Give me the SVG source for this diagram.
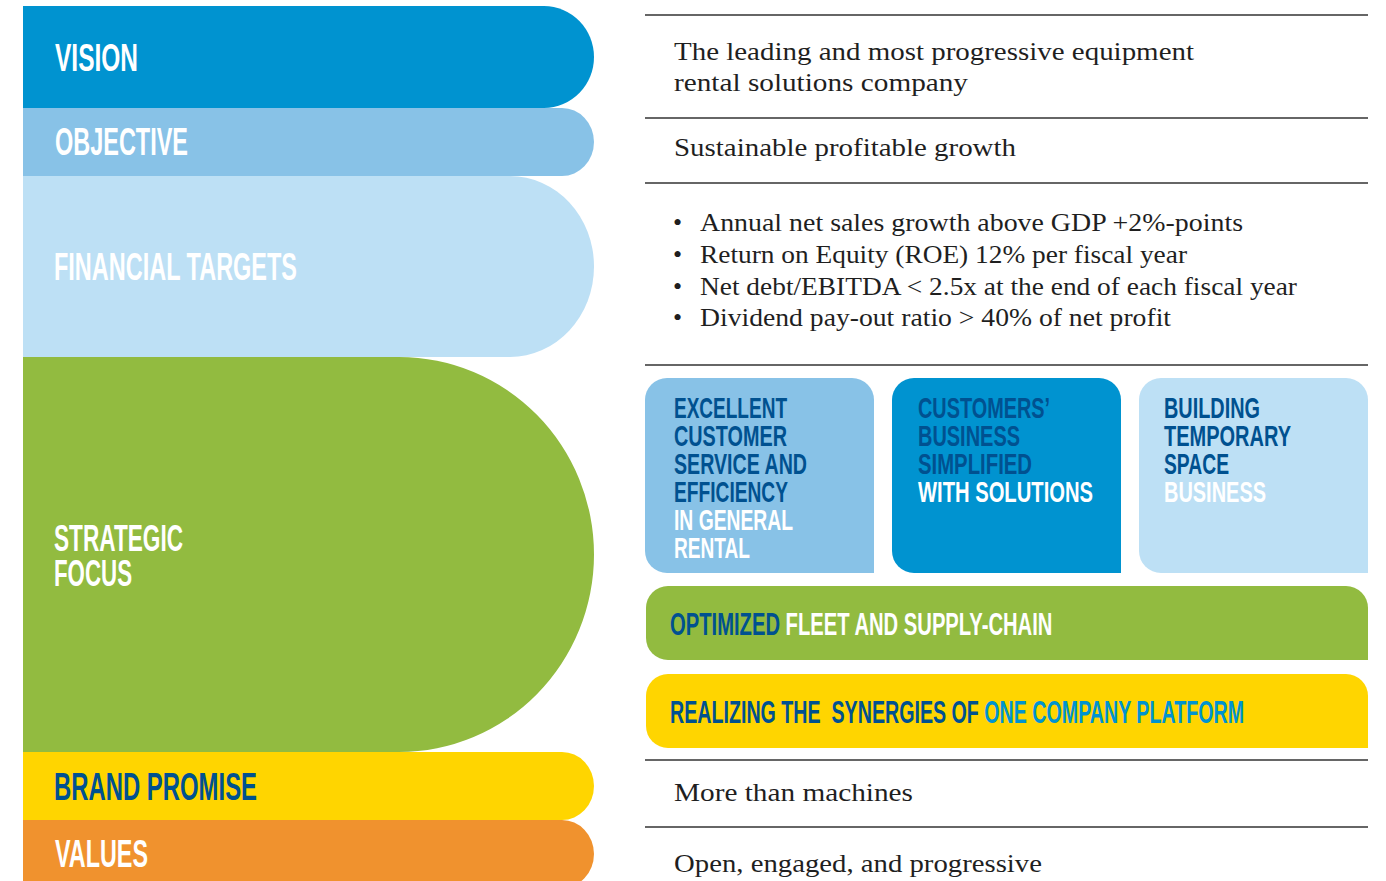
<svg xmlns="http://www.w3.org/2000/svg" width="1386" height="881" viewBox="0 0 1386 881">
<style>
.lbl{font-family:"Liberation Sans",Arial,sans-serif;font-weight:bold;}
.big{font-size:39px;}
.box{font-size:30px;}
.bar{font-size:31px;white-space:pre;}
.ser{font-family:"Liberation Serif","Times New Roman",serif;font-size:26px;fill:#1f1f1f;}
.w{fill:#ffffff;}
.d{fill:#005190;}
.b{fill:#0093D0;}
.sep{stroke:#333333;stroke-width:1.4;}
</style>
<rect x="0" y="0" width="1386" height="881" fill="#ffffff"/>

<g id="vision">
<path d="M23,6 H544 A50,51 0 0 1 594,57 A50,51 0 0 1 544,108 H23 Z" fill="#0093D0"/>
<text class="lbl big w" x="55" y="71" textLength="83" lengthAdjust="spacingAndGlyphs">VISION</text>
</g>
<g id="objective">
<path d="M23,108 H562 A32,34 0 0 1 594,142 A32,34 0 0 1 562,176 H23 Z" fill="#88C2E7"/>
<text class="lbl big w" x="55" y="155" textLength="133" lengthAdjust="spacingAndGlyphs">OBJECTIVE</text>
</g>
<g id="financial-targets">
<path d="M23,176 H510 A84,90.5 0 0 1 594,266.5 A84,90.5 0 0 1 510,357 H23 Z" fill="#BDE0F5"/>
<text class="lbl big w" x="54" y="280" font-size="38" textLength="243" lengthAdjust="spacingAndGlyphs">FINANCIAL TARGETS</text>
</g>
<g id="strategic-focus">
<path d="M23,357 H399 A195,197.5 0 0 1 594,554.5 A195,197.5 0 0 1 399,752 H23 Z" fill="#92BB40"/>
<text class="lbl w" font-size="37"><tspan x="54" y="551" textLength="129" lengthAdjust="spacingAndGlyphs">STRATEGIC</tspan><tspan x="54" y="586" textLength="78" lengthAdjust="spacingAndGlyphs">FOCUS</tspan></text>
</g>
<g id="brand-promise">
<path d="M23,752 H562 A32,34 0 0 1 594,786 A32,34 0 0 1 562,820 H23 Z" fill="#FFD500"/>
<text class="lbl big d" x="54" y="800" textLength="203" lengthAdjust="spacingAndGlyphs">BRAND PROMISE</text>
</g>
<g id="values">
<path d="M23,820 H562 A32,34 0 0 1 594,854 A32,34 0 0 1 562,888 H23 Z" fill="#F0922E"/>
<text class="lbl big w" x="55" y="867" textLength="93" lengthAdjust="spacingAndGlyphs">VALUES</text>
</g>

<g id="separators">
<line class="sep" x1="645" y1="15" x2="1368" y2="15"/>
<line class="sep" x1="645" y1="118" x2="1368" y2="118"/>
<line class="sep" x1="645" y1="183" x2="1368" y2="183"/>
<line class="sep" x1="645" y1="365" x2="1368" y2="365"/>
<line class="sep" x1="645" y1="760" x2="1368" y2="760"/>
<line class="sep" x1="645" y1="827" x2="1368" y2="827"/>
</g>

<g id="vision-text">
<text class="ser"><tspan x="674" y="60" textLength="520" lengthAdjust="spacingAndGlyphs">The leading and most progressive equipment</tspan><tspan x="674" y="91" textLength="294" lengthAdjust="spacingAndGlyphs">rental solutions company</tspan></text>
</g>
<g id="objective-text">
<text class="ser" x="674" y="156" textLength="342" lengthAdjust="spacingAndGlyphs">Sustainable profitable growth</text>
</g>
<g id="financial-text">
<text class="ser"><tspan x="673" y="231">•</tspan><tspan x="700" y="231" textLength="543" lengthAdjust="spacingAndGlyphs">Annual net sales growth above GDP +2%-points</tspan><tspan x="673" y="263">•</tspan><tspan x="700" y="263" textLength="487" lengthAdjust="spacingAndGlyphs">Return on Equity (ROE) 12% per fiscal year</tspan><tspan x="673" y="295">•</tspan><tspan x="700" y="295" textLength="597" lengthAdjust="spacingAndGlyphs">Net debt/EBITDA &lt; 2.5x at the end of each fiscal year</tspan><tspan x="673" y="326">•</tspan><tspan x="700" y="326" textLength="471" lengthAdjust="spacingAndGlyphs">Dividend pay-out ratio &gt; 40% of net profit</tspan></text>
</g>

<g id="focus-general-rental">
<path d="M667,378 H852 A22,22 0 0 1 874,400 V573 H667 A22,22 0 0 1 645,551 V400 A22,22 0 0 1 667,378 Z" fill="#88C2E7"/>
<text class="lbl box"><tspan class="d" x="674" y="418" textLength="113" lengthAdjust="spacingAndGlyphs">EXCELLENT</tspan><tspan class="d" x="674" y="446" textLength="113" lengthAdjust="spacingAndGlyphs">CUSTOMER</tspan><tspan class="d" x="674" y="474" textLength="133" lengthAdjust="spacingAndGlyphs">SERVICE AND</tspan><tspan class="d" x="674" y="502" textLength="114" lengthAdjust="spacingAndGlyphs">EFFICIENCY</tspan><tspan class="w" x="674" y="530" textLength="119" lengthAdjust="spacingAndGlyphs">IN GENERAL</tspan><tspan class="w" x="674" y="558" textLength="76" lengthAdjust="spacingAndGlyphs">RENTAL</tspan></text>
</g>
<g id="focus-solutions">
<path d="M914,378 H1099 A22,22 0 0 1 1121,400 V573 H914 A22,22 0 0 1 892,551 V400 A22,22 0 0 1 914,378 Z" fill="#0093D0"/>
<text class="lbl box"><tspan class="d" x="918" y="418" textLength="132" lengthAdjust="spacingAndGlyphs">CUSTOMERS’</tspan><tspan class="d" x="918" y="446" textLength="102" lengthAdjust="spacingAndGlyphs">BUSINESS</tspan><tspan class="d" x="918" y="474" textLength="114" lengthAdjust="spacingAndGlyphs">SIMPLIFIED</tspan><tspan class="w" x="918" y="502" textLength="175" lengthAdjust="spacingAndGlyphs">WITH SOLUTIONS</tspan></text>
</g>
<g id="focus-temporary-space">
<path d="M1161,378 H1346 A22,22 0 0 1 1368,400 V573 H1161 A22,22 0 0 1 1139,551 V400 A22,22 0 0 1 1161,378 Z" fill="#BDE0F5"/>
<text class="lbl box"><tspan class="d" x="1164" y="418" textLength="96" lengthAdjust="spacingAndGlyphs">BUILDING</tspan><tspan class="d" x="1164" y="446" textLength="127" lengthAdjust="spacingAndGlyphs">TEMPORARY</tspan><tspan class="d" x="1164" y="474" textLength="65" lengthAdjust="spacingAndGlyphs">SPACE</tspan><tspan class="w" x="1164" y="502" textLength="102" lengthAdjust="spacingAndGlyphs">BUSINESS</tspan></text>
</g>
<g id="focus-fleet">
<path d="M668,586 H1346 A22,22 0 0 1 1368,608 V660 H668 A22,22 0 0 1 646,638 V608 A22,22 0 0 1 668,586 Z" fill="#92BB40"/>
<g transform="translate(670,635) scale(0.652,1)">
<text class="lbl bar" x="0" y="0"><tspan class="d">OPTIMIZED</tspan><tspan class="w"> FLEET AND SUPPLY-CHAIN</tspan></text>
</g>
</g>
<g id="focus-synergies">
<path d="M668,674 H1346 A22,22 0 0 1 1368,696 V748 H668 A22,22 0 0 1 646,726 V696 A22,22 0 0 1 668,674 Z" fill="#FFD500"/>
<g transform="translate(670,723) scale(0.634,1)">
<text class="lbl bar" x="0" y="0"><tspan class="d">REALIZING THE  SYNERGIES OF </tspan><tspan class="b">ONE COMPANY PLATFORM</tspan></text>
</g>
</g>

<g id="brand-promise-text">
<text class="ser" x="674" y="801" textLength="239" lengthAdjust="spacingAndGlyphs">More than machines</text>
</g>
<g id="values-text">
<text class="ser" x="674" y="872" textLength="368" lengthAdjust="spacingAndGlyphs">Open, engaged, and progressive</text>
</g>
</svg>
